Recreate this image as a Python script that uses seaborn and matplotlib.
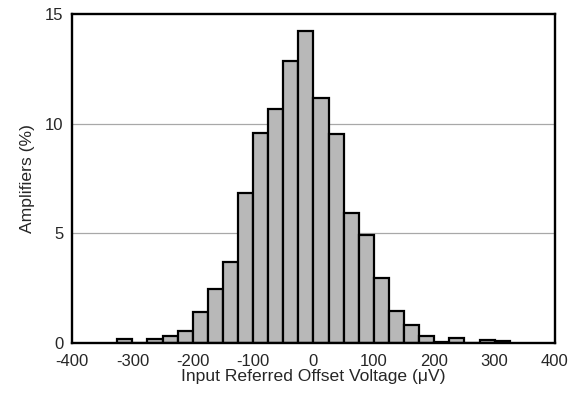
import numpy as np
import seaborn as sns
import matplotlib.pyplot as plt

# histogram bins (uV, left edges, width 25) and percentage of amplifiers
bin_left = [-325, -300, -275, -250, -225, -200, -175, -150, -125, -100, -75, -50,
            -25, 0, 25, 50, 75, 100, 125, 150, 175, 200, 225, 250, 275, 300]
pct = [0.2, 0.0, 0.18, 0.3, 0.57, 1.43, 2.46, 3.71, 6.83, 9.59, 10.67, 12.86,
       14.23, 11.16, 9.53, 5.91, 4.92, 2.95, 1.46, 0.81, 0.33, 0.06, 0.23, 0.0, 0.15, 0.08]
bin_width = 25

x_ticks = [-400, -300, -200, -100, 0, 100, 200, 300, 400]
y_ticks = [0, 5, 10, 15]

sns.set_style('white')
plt.rcParams['font.family'] = ['Liberation Sans', 'DejaVu Sans']
plt.rcParams['axes.unicode_minus'] = False

fig = plt.figure(figsize=(5.79, 3.96), dpi=100)
ax = fig.add_axes([0.1244, 0.1338, 0.8341, 0.8308])

centers = np.array(bin_left) + bin_width / 2
edges = list(bin_left) + [bin_left[-1] + bin_width]
sns.histplot(x=centers, weights=pct, bins=edges, ax=ax,
             color='#b8b8b8', edgecolor='black', linewidth=1.6, alpha=1)

for y in [5, 10]:
    ax.axhline(y, color='#a8a8a8', linewidth=0.9, zorder=0)

ax.set_xlim(-400, 400)
ax.set_ylim(0, 15)
ax.set_xticks(x_ticks)
ax.set_yticks(y_ticks)
ax.tick_params(axis='x', length=0, labelsize=12, pad=8)
ax.tick_params(axis='y', length=0, labelsize=12, pad=6)
ax.set_xlabel('Input Referred Offset Voltage (μV)', fontsize=12.6, labelpad=0)
ax.set_ylabel('Amplifiers (%)', fontsize=12.6, labelpad=7)
for s in ax.spines.values():
    s.set_linewidth(1.7)
    s.set_color('black')

fig.savefig('out.png', dpi=100)
